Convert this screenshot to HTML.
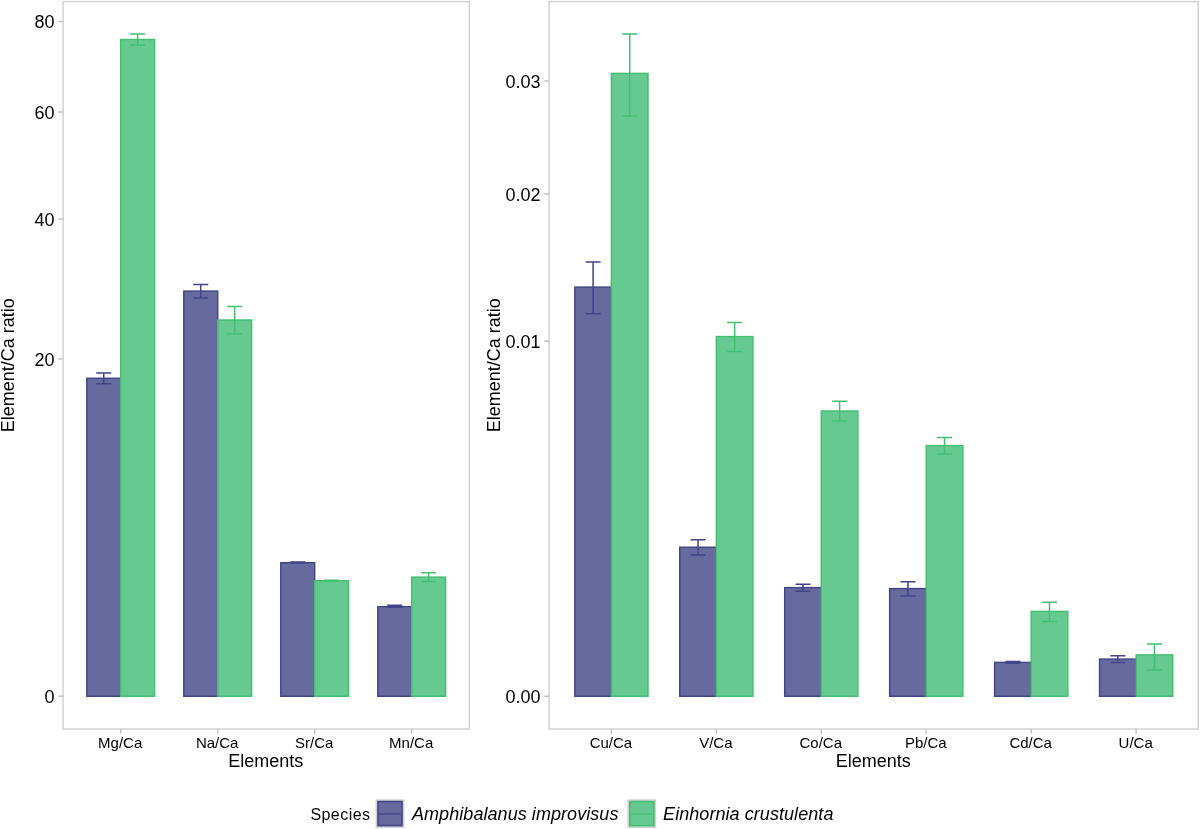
<!DOCTYPE html>
<html><head><meta charset="utf-8"><title>Element/Ca ratio chart</title>
<style>
html,body{margin:0;padding:0;background:#fff;}
body{width:1200px;height:829px;overflow:hidden;}
svg{display:block;will-change:transform;font-family:"Liberation Sans",sans-serif;}
text{fill:#000000;}
</style></head>
<body>
<svg width="1200" height="829" viewBox="0 0 1200 829">
<rect width="1200" height="829" fill="#fff"/>
<rect x="63.1" y="1.6" width="406.25" height="727.40" fill="none" stroke="#cfcfcf" stroke-width="1.4"/>
<rect x="86.80" y="378.30" width="33.90" height="318.00" fill="#676a9f" stroke="#414487" stroke-width="1.45"/>
<rect x="120.70" y="39.50" width="33.90" height="656.80" fill="#66ca90" stroke="#43BF71" stroke-width="1.45"/>
<rect x="183.80" y="291.10" width="33.90" height="405.20" fill="#676a9f" stroke="#414487" stroke-width="1.45"/>
<rect x="217.70" y="320.00" width="33.90" height="376.30" fill="#66ca90" stroke="#43BF71" stroke-width="1.45"/>
<rect x="280.80" y="562.70" width="33.90" height="133.60" fill="#676a9f" stroke="#414487" stroke-width="1.45"/>
<rect x="314.70" y="580.70" width="33.90" height="115.60" fill="#66ca90" stroke="#43BF71" stroke-width="1.45"/>
<rect x="377.80" y="606.70" width="33.90" height="89.60" fill="#676a9f" stroke="#414487" stroke-width="1.45"/>
<rect x="411.70" y="577.10" width="33.90" height="119.20" fill="#66ca90" stroke="#43BF71" stroke-width="1.45"/>
<path d="M96.25 373.00H111.25M103.75 373.00V383.70M96.25 383.70H111.25" fill="none" stroke="#414487" stroke-width="1.5"/>
<path d="M130.15 34.00H145.15M137.65 34.00V45.00M130.15 45.00H145.15" fill="none" stroke="#43BF71" stroke-width="1.5"/>
<path d="M193.25 284.60H208.25M200.75 284.60V297.90M193.25 297.90H208.25" fill="none" stroke="#414487" stroke-width="1.5"/>
<path d="M227.15 306.60H242.15M234.65 306.60V333.80M227.15 333.80H242.15" fill="none" stroke="#43BF71" stroke-width="1.5"/>
<path d="M290.25 561.90H305.25M297.75 561.90V563.10M290.25 563.10H305.25" fill="none" stroke="#414487" stroke-width="1.5"/>
<path d="M324.15 580.30H339.15M331.65 580.30V580.90M324.15 580.90H339.15" fill="none" stroke="#43BF71" stroke-width="1.5"/>
<path d="M387.25 605.30H402.25M394.75 605.30V607.30M387.25 607.30H402.25" fill="none" stroke="#414487" stroke-width="1.5"/>
<path d="M421.15 572.80H436.15M428.65 572.80V581.50M421.15 581.50H436.15" fill="none" stroke="#43BF71" stroke-width="1.5"/>
<line x1="58.30" x2="63.10" y1="696.2" y2="696.2" stroke="#bfbfbf" stroke-width="1.4"/>
<text x="54.6" y="702.80" text-anchor="end" font-size="18">0</text>
<line x1="58.30" x2="63.10" y1="358.9" y2="358.9" stroke="#bfbfbf" stroke-width="1.4"/>
<text x="54.6" y="365.50" text-anchor="end" font-size="18">20</text>
<line x1="58.30" x2="63.10" y1="219.1" y2="219.1" stroke="#bfbfbf" stroke-width="1.4"/>
<text x="54.6" y="225.70" text-anchor="end" font-size="18">40</text>
<line x1="58.30" x2="63.10" y1="112.0" y2="112.0" stroke="#bfbfbf" stroke-width="1.4"/>
<text x="54.6" y="118.60" text-anchor="end" font-size="18">60</text>
<line x1="58.30" x2="63.10" y1="21.5" y2="21.5" stroke="#bfbfbf" stroke-width="1.4"/>
<text x="54.6" y="28.10" text-anchor="end" font-size="18">80</text>
<line x1="120.7" x2="120.7" y1="729.0" y2="733.80" stroke="#bfbfbf" stroke-width="1.4"/>
<text x="120.20" y="748.3" text-anchor="middle" font-size="15">Mg/Ca</text>
<line x1="217.7" x2="217.7" y1="729.0" y2="733.80" stroke="#bfbfbf" stroke-width="1.4"/>
<text x="217.20" y="748.3" text-anchor="middle" font-size="15">Na/Ca</text>
<line x1="314.7" x2="314.7" y1="729.0" y2="733.80" stroke="#bfbfbf" stroke-width="1.4"/>
<text x="314.20" y="748.3" text-anchor="middle" font-size="15">Sr/Ca</text>
<line x1="411.7" x2="411.7" y1="729.0" y2="733.80" stroke="#bfbfbf" stroke-width="1.4"/>
<text x="411.20" y="748.3" text-anchor="middle" font-size="15">Mn/Ca</text>
<text x="265.83" y="767.3" text-anchor="middle" font-size="18">Elements</text>
<rect x="549.0" y="1.6" width="649.20" height="727.40" fill="none" stroke="#cfcfcf" stroke-width="1.4"/>
<rect x="574.80" y="287.10" width="36.60" height="409.20" fill="#676a9f" stroke="#414487" stroke-width="1.45"/>
<rect x="611.40" y="73.40" width="36.60" height="622.90" fill="#66ca90" stroke="#43BF71" stroke-width="1.45"/>
<rect x="679.75" y="547.25" width="36.60" height="149.05" fill="#676a9f" stroke="#414487" stroke-width="1.45"/>
<rect x="716.35" y="336.60" width="36.60" height="359.70" fill="#66ca90" stroke="#43BF71" stroke-width="1.45"/>
<rect x="784.70" y="587.60" width="36.60" height="108.70" fill="#676a9f" stroke="#414487" stroke-width="1.45"/>
<rect x="821.30" y="411.00" width="36.60" height="285.30" fill="#66ca90" stroke="#43BF71" stroke-width="1.45"/>
<rect x="889.65" y="588.60" width="36.60" height="107.70" fill="#676a9f" stroke="#414487" stroke-width="1.45"/>
<rect x="926.25" y="445.60" width="36.60" height="250.70" fill="#66ca90" stroke="#43BF71" stroke-width="1.45"/>
<rect x="994.60" y="662.40" width="36.60" height="33.90" fill="#676a9f" stroke="#414487" stroke-width="1.45"/>
<rect x="1031.20" y="611.40" width="36.60" height="84.90" fill="#66ca90" stroke="#43BF71" stroke-width="1.45"/>
<rect x="1099.55" y="659.10" width="36.60" height="37.20" fill="#676a9f" stroke="#414487" stroke-width="1.45"/>
<rect x="1136.15" y="654.90" width="36.60" height="41.40" fill="#66ca90" stroke="#43BF71" stroke-width="1.45"/>
<path d="M585.60 262.10H600.60M593.10 262.10V313.80M585.60 313.80H600.60" fill="none" stroke="#414487" stroke-width="1.5"/>
<path d="M622.20 34.10H637.20M629.70 34.10V115.90M622.20 115.90H637.20" fill="none" stroke="#43BF71" stroke-width="1.5"/>
<path d="M690.55 539.85H705.55M698.05 539.85V555.00M690.55 555.00H705.55" fill="none" stroke="#414487" stroke-width="1.5"/>
<path d="M727.15 322.40H742.15M734.65 322.40V351.60M727.15 351.60H742.15" fill="none" stroke="#43BF71" stroke-width="1.5"/>
<path d="M795.50 584.25H810.50M803.00 584.25V591.25M795.50 591.25H810.50" fill="none" stroke="#414487" stroke-width="1.5"/>
<path d="M832.10 401.30H847.10M839.60 401.30V420.90M832.10 420.90H847.10" fill="none" stroke="#43BF71" stroke-width="1.5"/>
<path d="M900.45 581.75H915.45M907.95 581.75V596.10M900.45 596.10H915.45" fill="none" stroke="#414487" stroke-width="1.5"/>
<path d="M937.05 437.50H952.05M944.55 437.50V453.90M937.05 453.90H952.05" fill="none" stroke="#43BF71" stroke-width="1.5"/>
<path d="M1005.40 661.50H1020.40M1012.90 661.50V663.30M1005.40 663.30H1020.40" fill="none" stroke="#414487" stroke-width="1.5"/>
<path d="M1042.00 602.30H1057.00M1049.50 602.30V621.50M1042.00 621.50H1057.00" fill="none" stroke="#43BF71" stroke-width="1.5"/>
<path d="M1110.35 655.80H1125.35M1117.85 655.80V662.50M1110.35 662.50H1125.35" fill="none" stroke="#414487" stroke-width="1.5"/>
<path d="M1146.95 644.10H1161.95M1154.45 644.10V670.00M1146.95 670.00H1161.95" fill="none" stroke="#43BF71" stroke-width="1.5"/>
<line x1="544.20" x2="549.00" y1="696.3" y2="696.3" stroke="#bfbfbf" stroke-width="1.4"/>
<text x="540.5" y="702.90" text-anchor="end" font-size="18">0.00</text>
<line x1="544.20" x2="549.00" y1="341.1" y2="341.1" stroke="#bfbfbf" stroke-width="1.4"/>
<text x="540.5" y="347.70" text-anchor="end" font-size="18">0.01</text>
<line x1="544.20" x2="549.00" y1="193.9" y2="193.9" stroke="#bfbfbf" stroke-width="1.4"/>
<text x="540.5" y="200.50" text-anchor="end" font-size="18">0.02</text>
<line x1="544.20" x2="549.00" y1="81.0" y2="81.0" stroke="#bfbfbf" stroke-width="1.4"/>
<text x="540.5" y="87.60" text-anchor="end" font-size="18">0.03</text>
<line x1="611.4" x2="611.4" y1="729.0" y2="733.80" stroke="#bfbfbf" stroke-width="1.4"/>
<text x="610.90" y="748.3" text-anchor="middle" font-size="15">Cu/Ca</text>
<line x1="716.35" x2="716.35" y1="729.0" y2="733.80" stroke="#bfbfbf" stroke-width="1.4"/>
<text x="715.85" y="748.3" text-anchor="middle" font-size="15">V/Ca</text>
<line x1="821.3" x2="821.3" y1="729.0" y2="733.80" stroke="#bfbfbf" stroke-width="1.4"/>
<text x="820.80" y="748.3" text-anchor="middle" font-size="15">Co/Ca</text>
<line x1="926.25" x2="926.25" y1="729.0" y2="733.80" stroke="#bfbfbf" stroke-width="1.4"/>
<text x="925.75" y="748.3" text-anchor="middle" font-size="15">Pb/Ca</text>
<line x1="1031.2" x2="1031.2" y1="729.0" y2="733.80" stroke="#bfbfbf" stroke-width="1.4"/>
<text x="1030.70" y="748.3" text-anchor="middle" font-size="15">Cd/Ca</text>
<line x1="1136.15" x2="1136.15" y1="729.0" y2="733.80" stroke="#bfbfbf" stroke-width="1.4"/>
<text x="1135.65" y="748.3" text-anchor="middle" font-size="15">U/Ca</text>
<text x="873.20" y="767.3" text-anchor="middle" font-size="18">Elements</text>
<text transform="translate(14.4 365.30) rotate(-90)" text-anchor="middle" font-size="18">Element/Ca ratio</text>
<text transform="translate(500.1 365.30) rotate(-90)" text-anchor="middle" font-size="18">Element/Ca ratio</text>
<text x="310.4" y="819.8" font-size="16" letter-spacing="0.45">Species</text>
<rect x="375.60" y="799.3" width="28.8" height="28.6" fill="#d0d0d0"/>
<rect x="378.00" y="801.6" width="24" height="24" fill="#676a9f" stroke="#414487" stroke-width="1.6"/>
<line x1="379.30" x2="400.50" y1="813.9" y2="813.9" stroke="#414487" stroke-width="1.4"/>
<text x="412.0" y="820.0" font-size="18" font-style="italic" letter-spacing="0.06">Amphibalanus improvisus</text>
<rect x="627.40" y="799.3" width="28.8" height="28.6" fill="#d0d0d0"/>
<rect x="629.80" y="801.6" width="24" height="24" fill="#66ca90" stroke="#43BF71" stroke-width="1.6"/>
<line x1="631.10" x2="652.30" y1="813.9" y2="813.9" stroke="#43BF71" stroke-width="1.4"/>
<text x="663.1" y="820.0" font-size="18" font-style="italic" letter-spacing="0.06">Einhornia crustulenta</text>
</svg>
</body></html>
